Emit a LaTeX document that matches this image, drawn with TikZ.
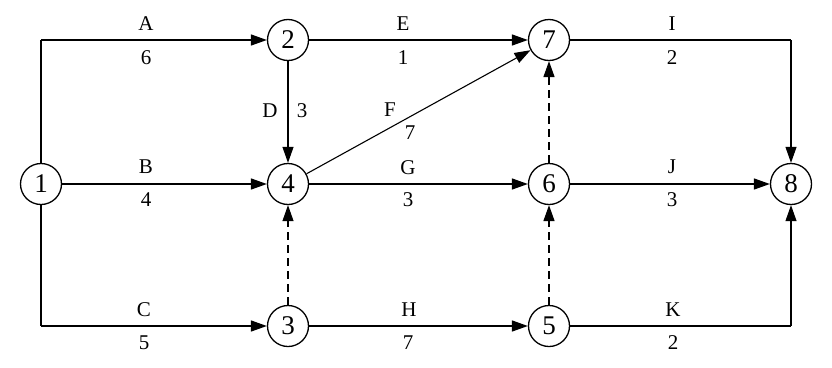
\documentclass[tikz,border=0pt]{standalone}
\usepackage{fontspec}
\setmainfont{Liberation Serif}
\usetikzlibrary{arrows.meta}
\begin{document}
\begin{tikzpicture}[x=1pt,y=-1pt,
  ev/.style={circle,draw,line width=1.3pt,minimum size=41pt,inner sep=0pt,font=\fontsize{27}{27}\selectfont},
  act/.style={line width=1.5pt,-{Triangle[length=16pt,width=11pt]}},
  thinact/.style={act,line width=1.1pt},
  dum/.style={act,dash pattern=on 8pt off 5pt},
  lab/.style={font=\fontsize{21}{21}\selectfont,inner sep=0pt}]
\useasboundingbox (0,0) rectangle (832,367);
\node[ev] (n1) at (41,184) {1};
\node[ev] (n2) at (288,40) {2};
\node[ev] (n3) at (288,326) {3};
\node[ev] (n4) at (288,184) {4};
\node[ev] (n5) at (549,326) {5};
\node[ev] (n6) at (549,184) {6};
\node[ev] (n7) at (549,40) {7};
\node[ev] (n8) at (791,184) {8};
\coordinate (c1t) at (41,40);
\coordinate (c1b) at (41,326);
\coordinate (c8t) at (791,40);
\coordinate (c8b) at (791,326);
\draw[line width=1.5pt] (n1) -- (c1t);
\draw[line width=1.5pt] (n1) -- (c1b);
\draw[act] (c1t) -- (n2);
\draw[act] (n1) -- (n4);
\draw[act] (c1b) -- (n3);
\draw[thinact] (n2) -- (n4);
\draw[act] (n2) -- (n7);
\draw[thinact] (n4) -- (n7);
\draw[act] (n4) -- (n6);
\draw[act] (n3) -- (n5);
\draw[dum,line width=1.1pt] (n3) -- (n4);
\draw[dum] (n6) -- (n7);
\draw[dum] (n5) -- (n6);
\draw[line width=1.5pt] (n7) -- (c8t);
\draw[thinact] (c8t) -- (n8);
\draw[act] (n6) -- (n8);
\draw[line width=1.5pt] (n5) -- (c8b);
\draw[thinact] (c8b) -- (n8);
\node[lab] (lA) at (146,24) {A};
\node[lab] (lA2) at (146,58) {6};
\node[lab] (lB) at (146,167) {B};
\node[lab] (lB2) at (146,200) {4};
\node[lab] (lC) at (144,310) {C};
\node[lab] (lC2) at (144,343) {5};
\node[lab] (lD) at (270,111) {D};
\node[lab] (lD2) at (302,111) {3};
\node[lab] (lE) at (403,24) {E};
\node[lab] (lE2) at (403,58) {1};
\node[lab] (lF) at (390,110) {F};
\node[lab] (lF2) at (410,133) {7};
\node[lab] (lG) at (408,168) {G};
\node[lab] (lG2) at (408,200) {3};
\node[lab] (lH) at (409,310) {H};
\node[lab] (lH2) at (408,343) {7};
\node[lab] (lI) at (672,24) {I};
\node[lab] (lI2) at (672,58) {2};
\node[lab] (lJ) at (672,167) {J};
\node[lab] (lJ2) at (672,200) {3};
\node[lab] (lK) at (673,310) {K};
\node[lab] (lK2) at (673,343) {2};
\end{tikzpicture}
\end{document}
